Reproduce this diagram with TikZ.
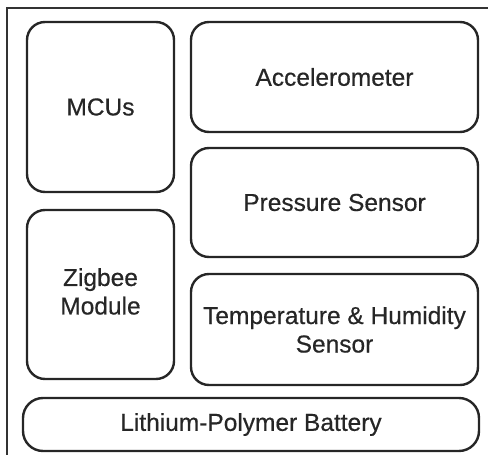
\documentclass[tikz,border=0pt]{standalone}
\usepackage{fontspec}
\setmainfont{Liberation Sans}
\newfontfamily\lblfont[FakeBold=0.5]{Liberation Sans}
\begin{document}
\begin{tikzpicture}[x=1pt,y=-1pt,
  blk/.style={draw=black!85, line width=2.4pt, rounded corners=18pt, inner sep=0pt,
    align=center, font=\lblfont\fontsize{24.5}{28.5}\selectfont, text=black!85},
  frame/.style={draw=black!80, line width=2pt}]
\useasboundingbox (0,0) rectangle (488,455);
\coordinate (fbl) at (7,460);
\coordinate (ftl) at (7,8);
\coordinate (ftr) at (492,8);
\draw[frame] (fbl) -- (ftl) -- (ftr);
\node[blk, minimum width=147pt, minimum height=170pt] (mcu) at (100.5,107) {\raisebox{-3pt}{MCUs}};
\node[blk, minimum width=147pt, minimum height=169pt] (zig) at (100.5,294.5) {\raisebox{-2pt}{\begin{tabular}{@{}c@{}}Zigbee\\Module\end{tabular}}};
\node[blk, minimum width=287pt, minimum height=110pt] (acc) at (334.5,77) {Accelerometer};
\node[blk, minimum width=287pt, minimum height=109pt] (pre) at (334.5,202.5) {Pressure Sensor};
\node[blk, minimum width=287pt, minimum height=111pt] (tem) at (334.5,329.5) {Temperature \& Humidity\\Sensor};
\node[blk, rounded corners=20pt, minimum width=456pt, minimum height=53pt] (bat) at (251,424.5) {\raisebox{-3pt}{Lithium-Polymer Battery}};
\end{tikzpicture}
\end{document}
